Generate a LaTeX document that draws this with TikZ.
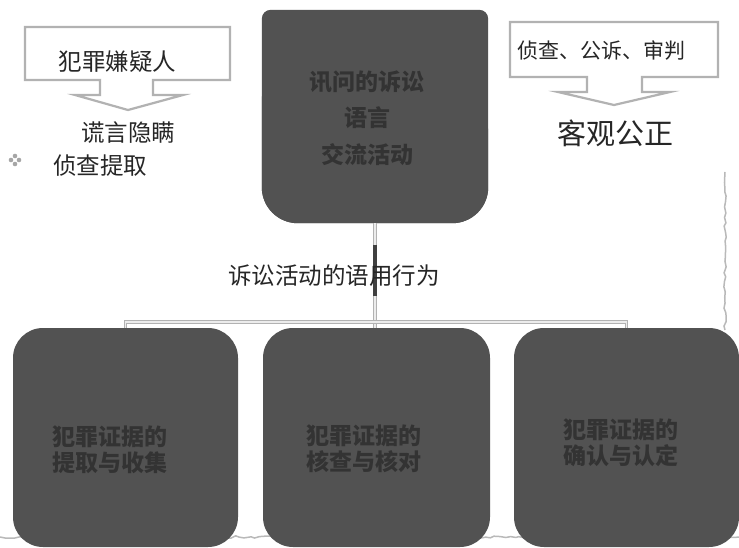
\documentclass[tikz,border=0pt]{standalone}
\usepackage{fontspec}
\newfontfamily\cjk{Noto Sans CJK SC}
\usetikzlibrary{calc,decorations.pathmorphing}
\tikzset{
  darkbox/.style={fill=black!68, draw=none, inner sep=0pt},
  darktext/.style={text=black!80, font=\cjk\bfseries\fontsize{23}{26}\selectfont, align=center, inner sep=0pt},
  plaintext/.style={text=black!85, font=\cjk\fontsize{23.5}{28}\selectfont, inner sep=0pt},
  calloutline/.style={draw=gray!60, line width=2.2pt, fill=white, line join=miter},
  link/.style={draw=gray!60, line width=1pt, double=white!85!gray, double distance=1.8pt},
  pagewave/.style={draw=gray!55, line width=1.5pt, decorate,
    decoration={random steps, segment length=5pt, amplitude=1.2pt}},
}

\begin{document}
\begin{tikzpicture}[x=1pt, y=-1pt]
    \useasboundingbox (0,0) rectangle (739,548);
    \fill [white] (0,0) rectangle (739,548);

    % coordinates to be reused
    \coordinate (A1) at (25,27);
    \coordinate (A2) at (230,80);
    \coordinate (B1) at (510,22);
    \coordinate (B2) at (718,77);

    % page marks
    \draw [pagewave] (725,172) -- (725,330);
    \draw [pagewave] (0,537) -- (739,537);

    % the two callouts
    \draw [calloutline] (A1) -| (A2) -- (153,80) -- (153,95) -- (183,95)
      -- (128,110) -- (75,95) -- (100,95) -- (100,80) -- (A1 |- A2) -- cycle;
    \draw [calloutline] (B1) -| (B2) -- (642,77) -- (642,92) -- (670,92)
      -- (614,105) -- (558,92) -- (587,92) -- (587,77) -- (B1 |- B2) -- cycle;

    % the top box, square on top and round below
    \node [minimum width=226, minimum height=213, inner sep=0pt] (talk) at (375,116.5) {};
    \fill [black!68, rounded corners=9pt] (talk.south west) [rounded corners=9pt]
      |- (talk.north east) [rounded corners=36pt] -- (talk.south east) -- cycle;
    \fill [black!68, rounded corners=36pt] ($(talk.west)+(0,-20)$) |- (talk.south east)
      |- ($(talk.west)+(0,-20)$);

    % the three boxes below
    \node [darkbox, minimum width=225, minimum height=219, rounded corners=30pt] (gather) at (125.5,437.5) {};
    \node [darkbox, minimum width=227, minimum height=219, rounded corners=30pt] (check) at (376.5,437.5) {};
    \node [darkbox, minimum width=225, minimum height=219, rounded corners=30pt] (confirm) at (626.5,437.5) {};

    % connectors
    \draw [link] (talk.south) -- (talk.south |- check.north);
    \draw [link] (gather.north) -- ++(0,-6) -| (confirm.north);
    \draw [line width=3.5pt, black!75] ($(talk.south)+(0,22)$) -- ++(0,51);

    % bullet
    \foreach \dx/\dy in {0/-4,4/0,0/4,-4/0}
      \fill [gray!70] (15+\dx,160+\dy) circle (2.3pt);

    % add labels
    \node [plaintext] (suspect) at (117.5,62) {犯罪嫌疑人};
    \node [plaintext] (lie) at (128,133) {谎言隐瞒};
    \node [plaintext] (obtain) at (100,166) {侦查提取};
    \node [plaintext, font=\cjk\fontsize{21}{25}\selectfont, anchor=west] (stages) at (517,51) {侦查、公诉、审判};
    \node [plaintext, font=\cjk\fontsize{29}{34}\selectfont] (fair) at (615,133) {客观公正};
    \node [plaintext] (pragmatic) at (334,276) {诉讼活动的语用行为};
    \node [darktext, font=\cjk\bfseries\fontsize{23}{36.5}\selectfont] (talktext) at (367,118) {讯问的诉讼\\语言\\交流活动};
    \node [darktext] (gathertext) at (110,450) {犯罪证据的\\提取与收集};
    \node [darktext] (checktext) at (364,449) {犯罪证据的\\核查与核对};
    \node [darktext] (confirmtext) at (621,443) {犯罪证据的\\确认与认定};
\end{tikzpicture}
\end{document}
